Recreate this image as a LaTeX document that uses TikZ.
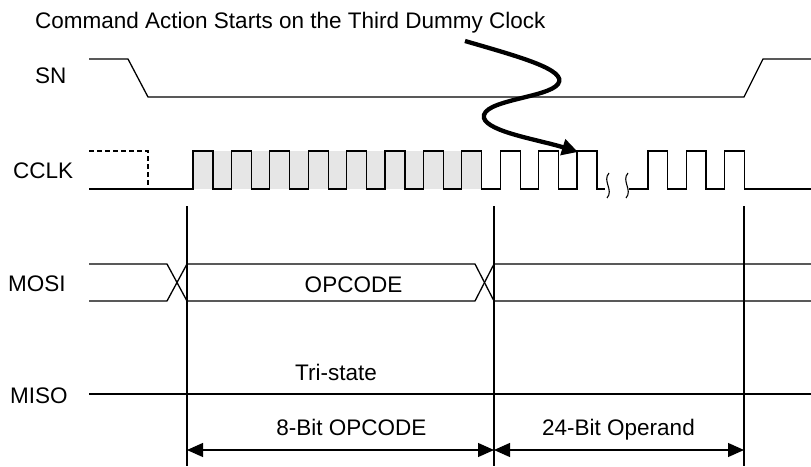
\documentclass[tikz,border=0pt]{standalone}
\usepackage{fontspec}
\setmainfont{Liberation Sans}
\usepackage{xcolor}
\usepackage{tikz}
\usetikzlibrary{arrows.meta, positioning}
\definecolor{bandgray}{RGB}{230,230,230}

\begin{document}
\begin{tikzpicture}[>={Triangle[length=16pt,width=14pt]}, x=1pt, y=-1pt]
	\useasboundingbox (0,0) rectangle (811,466);

	% ------------------------------------------------------------------
	% STYLE DEFINITIONS
	% ------------------------------------------------------------------
	\tikzset{
		sig/.style     = {line width=1.3pt, line join=miter},
		vline/.style   = {line width=1.2pt},
		dimline/.style = {line width=1.2pt, <->},
		bigarrow/.style = {line width=4.3pt, -{Triangle[length=16pt,width=16pt]}},
		breakmark/.style = {line width=1.1pt},
		txt/.style     = {inner sep=0pt, anchor=base, font=\fontsize{22.5}{27}\selectfont},
		opband/.style  = {fill=bandgray},
	}

	% ------------------------------------------------------------------
	% LABELS
	% ------------------------------------------------------------------
	\node[txt, anchor=base west] (title) at (35,28) {Command Action Starts on the Third Dummy Clock};
	\node[txt, anchor=base west] (sn)    at (35,83)  {SN};
	\node[txt, anchor=base west] (cclk)  at (13,178) {CCLK};
	\node[txt, anchor=base west] (mosi)  at (8,291)  {MOSI};
	\node[txt, anchor=base west] (miso)  at (10,403) {MISO};
	\node[txt] (opcode)   at (353.5,292) {OPCODE};
	\node[txt] (tristate) at (336,380)   {Tri-state};
	\node[txt] (opbits)   at (351.5,435) {8-Bit OPCODE};
	\node[txt] (operand)  at (618.5,435) {24-Bit Operand};

	% ------------------------------------------------------------------
	% SN
	% ------------------------------------------------------------------
	\draw[sig] (89,59) -- (128,59) -- (148,97) -- (744,97) -- (763,59) -- (811,59);

	% ------------------------------------------------------------------
	% CCLK  (8 opcode clocks shaded, then dummy clocks, break, operand)
	% ------------------------------------------------------------------
	\fill[opband] (193,151) rectangle (482,189);
	\draw[sig, dash pattern=on 5pt off 3pt] (89,151) -| (148,189);
	\draw[sig] (89,189)
		\foreach \k in {0,...,10} { -| ({193+38.4*\k},151) -| ({213+38.4*\k},189) }
		-- (605,189);
	\draw[sig] (629,189)
		\foreach \k in {0,1,2} { -| ({648+38.4*\k},151) -| ({667.5+38.4*\k},189) }
		-- (811,189);
	\draw[breakmark] (609,173) .. controls (602,181) and (614,190) .. (607,198);
	\draw[breakmark] (628,173) .. controls (621,181) and (633,190) .. (626,198);

	% ------------------------------------------------------------------
	% MOSI & MISO
	% ------------------------------------------------------------------
	\draw[sig] (89,264) -- (167,264) -- (187,301) -- (475,301) -- (494,264) -- (811,264);
	\draw[sig] (89,301) -- (167,301) -- (187,264) -- (475,264) -- (494,301) -- (811,301);
	\draw[sig] (89,394) -- (811,394);

	% ------------------------------------------------------------------
	% MARKERS & DIMENSIONS
	% ------------------------------------------------------------------
	\foreach \x/\n in {187/a, 494/b, 744/c} {
		\coordinate (\n-top) at (\x,206);
		\coordinate (\n-bot) at (\x,466);
		\coordinate (\n-dim) at (\x,450);
		\draw[vline] (\n-top) -- (\n-bot);
	}
	\draw[dimline] (a-dim) -- (b-dim);
	\draw[dimline] (b-dim) -- (c-dim);

	% third dummy clock
	\coordinate (curlstart) at (465,41);
	\coordinate (dummythree) at (578,152);
	\draw[bigarrow] (curlstart) .. controls (520,57) and (568,70) .. (558,84)
		.. controls (548,98) and (480,100) .. (484,118)
		.. controls (488,132) and (540,140) .. (dummythree);

\end{tikzpicture}
\end{document}
